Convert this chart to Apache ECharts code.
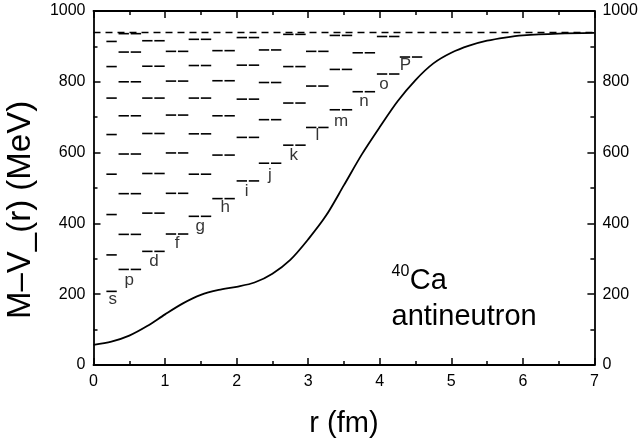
<!DOCTYPE html>
<html>
<head>
<meta charset="utf-8">
<script src="https://cdn.jsdelivr.net/npm/echarts@6/dist/echarts.min.js"></script>
<style>
  html, body { margin: 0; padding: 0; background: #fff; }
  #chart { width: 641px; height: 443px; }
</style>
</head>
<body>
<div id="chart"></div>
<script>
// potential curve M - V_(r), r in fm, value in MeV
var curveR = [0, 0.25, 0.5, 0.75, 1.0, 1.25, 1.5, 1.75, 2.0, 2.25, 2.5, 2.75, 3.0, 3.25, 3.5, 3.75, 4.0, 4.25, 4.5, 4.75, 5.0, 5.25, 5.5, 5.75, 6.0, 6.5, 7.0];
var curveV = [57, 66, 83, 110, 143, 174, 198, 212, 221, 233, 258, 297, 355, 422, 508, 595, 672, 745, 805, 852, 882, 902, 916, 925, 931, 936, 938];

var massLine = 939;

// levels per orbital angular momentum
var waveNames = ['s', 'p', 'd', 'f', 'g', 'h', 'i', 'j', 'k', 'l', 'm', 'n', 'o', 'P'];
var colStart = [0.18, 0.35, 0.68, 1.01, 1.33, 1.66, 2.00, 2.31, 2.65, 2.97, 3.30, 3.62, 3.96, 4.28];
var levels = [
  [208, 311, 425, 539, 651, 754, 843, 914],
  [270, 369, 484, 596, 704, 800, 884, 936],
  [321, 429, 541, 654, 754, 844, 916],
  [370, 485, 599, 706, 802, 886],
  [420, 539, 653, 754, 846, 920],
  [470, 593, 704, 803, 888],
  [520, 643, 751, 847, 925],
  [570, 693, 798, 890],
  [621, 740, 843, 934],
  [671, 788, 886],
  [721, 835, 931],
  [772, 882],
  [822, 928],
  [870]
];
// where the letter sits (r, MeV)
var labelR = [0.27, 0.50, 0.845, 1.17, 1.49, 1.84, 2.14, 2.465, 2.80, 3.13, 3.46, 3.78, 4.06, 4.36];
var labelV = [185, 240, 294, 345, 392, 445, 491, 537, 593, 648, 689, 744, 794, 847];

var dashLen = 0.145, dashGap = 0.025;

var segs = [];
for (var l = 0; l < levels.length; l++) {
    for (var k = 0; k < levels[l].length; k++) {
        var x0 = colStart[l];
        segs.push([x0, x0 + dashLen, levels[l][k]]);
        if (l > 0) {
            segs.push([x0 + dashLen + dashGap, x0 + 2 * dashLen + dashGap, levels[l][k]]);
        }
    }
}

var curveData = [];
for (var i = 0; i < curveR.length; i++) {
    curveData.push([curveR[i], curveV[i]]);
}

var labelData = [];
for (var i = 0; i < waveNames.length; i++) {
    labelData.push([labelR[i], labelV[i], waveNames[i]]);
}

var fontFam = '"Liberation Sans", Arial, sans-serif';

var tickCommon = {
    axisLine: { show: true, onZero: false, lineStyle: { color: '#000', width: 1.8 } },
    axisTick: { show: true, inside: true, length: 7, lineStyle: { color: '#000', width: 1.5 } },
    minorTick: { show: true, splitNumber: 2, length: 4, lineStyle: { color: '#000', width: 1.5 } },
    splitLine: { show: false }
};

function plainNum(v) { return String(v); }

function xAx(pos, showLabel) {
    return Object.assign({
        type: 'value', position: pos, min: 0, max: 7, interval: 1,
        axisLabel: { show: showLabel, color: '#000', fontSize: 16, fontFamily: fontFam, margin: 9, formatter: plainNum }
    }, tickCommon);
}
function yAx(pos) {
    return Object.assign({
        type: 'value', position: pos, min: 0, max: 1000, interval: 200,
        axisLabel: { show: true, color: '#000', fontSize: 16, fontFamily: fontFam, margin: 8, formatter: plainNum }
    }, tickCommon);
}

var xBottom = xAx('bottom', true);
xBottom.name = 'r (fm)';
xBottom.nameLocation = 'middle';
xBottom.nameGap = 44;
xBottom.nameTextStyle = { color: '#000', fontSize: 29, fontFamily: fontFam };

var option = {
    animation: false,
    backgroundColor: '#fff',
    grid: { left: 93.5, right: 46, top: 11, bottom: 67 },
    xAxis: [xBottom, xAx('top', false)],
    yAxis: [yAx('left'), yAx('right')],
    series: [
        {
            type: 'line',
            data: curveData,
            smooth: 0.3,
            showSymbol: false,
            lineStyle: { color: '#000', width: 1.8 }
        },
        {
            type: 'line',
            data: [[0, massLine], [7, massLine]],
            showSymbol: false,
            lineStyle: { color: '#000', width: 1.5, type: [7, 5] }
        },
        {
            type: 'custom',
            data: segs,
            renderItem: function (params, api) {
                var p0 = api.coord([api.value(0), api.value(2)]);
                var p1 = api.coord([api.value(1), api.value(2)]);
                return {
                    type: 'line',
                    shape: { x1: p0[0], y1: p0[1], x2: p1[0], y2: p1[1] },
                    style: { stroke: '#000', lineWidth: 1.6 }
                };
            }
        },
        {
            type: 'scatter',
            data: labelData,
            symbolSize: 0,
            label: {
                show: true,
                position: 'inside',
                color: '#000',
                fontSize: 17,
                fontFamily: fontFam,
                formatter: function (d) { return d.data[2]; }
            }
        }
    ]
};

var chartDom = document.getElementById('chart');
var chart = echarts.init(chartDom);
chart.setOption(option);

// annotation text placed in data coordinates
var pSup = chart.convertToPixel({ gridIndex: 0 }, [4.165, 287]);
var pCa = chart.convertToPixel({ gridIndex: 0 }, [4.42, 195]);
var pAnti = chart.convertToPixel({ gridIndex: 0 }, [4.165, 95]);
var pYName = chart.convertToPixel({ gridIndex: 0 }, [0, 438]);
chart.setOption({
    graphic: [
        { type: 'text', x: pSup[0], y: pSup[1], style: { text: '40', fill: '#000', fontSize: 16, fontFamily: fontFam, verticalAlign: 'top' } },
        { type: 'text', x: pCa[0], y: pCa[1], style: { text: 'Ca', fill: '#000', fontSize: 29, fontFamily: fontFam, verticalAlign: 'bottom' } },
        { type: 'text', x: pAnti[0], y: pAnti[1], style: { text: 'antineutron', fill: '#000', fontSize: 29, fontFamily: fontFam, verticalAlign: 'bottom' } },
        { type: 'text', x: pYName[0] - 73, y: pYName[1], rotation: Math.PI / 2,
          style: { text: 'M\u2013V_(r) (MeV)', fill: '#000', fontSize: 33, fontFamily: fontFam, align: 'center', verticalAlign: 'middle' } }
    ]
});
</script>
</body>
</html>
